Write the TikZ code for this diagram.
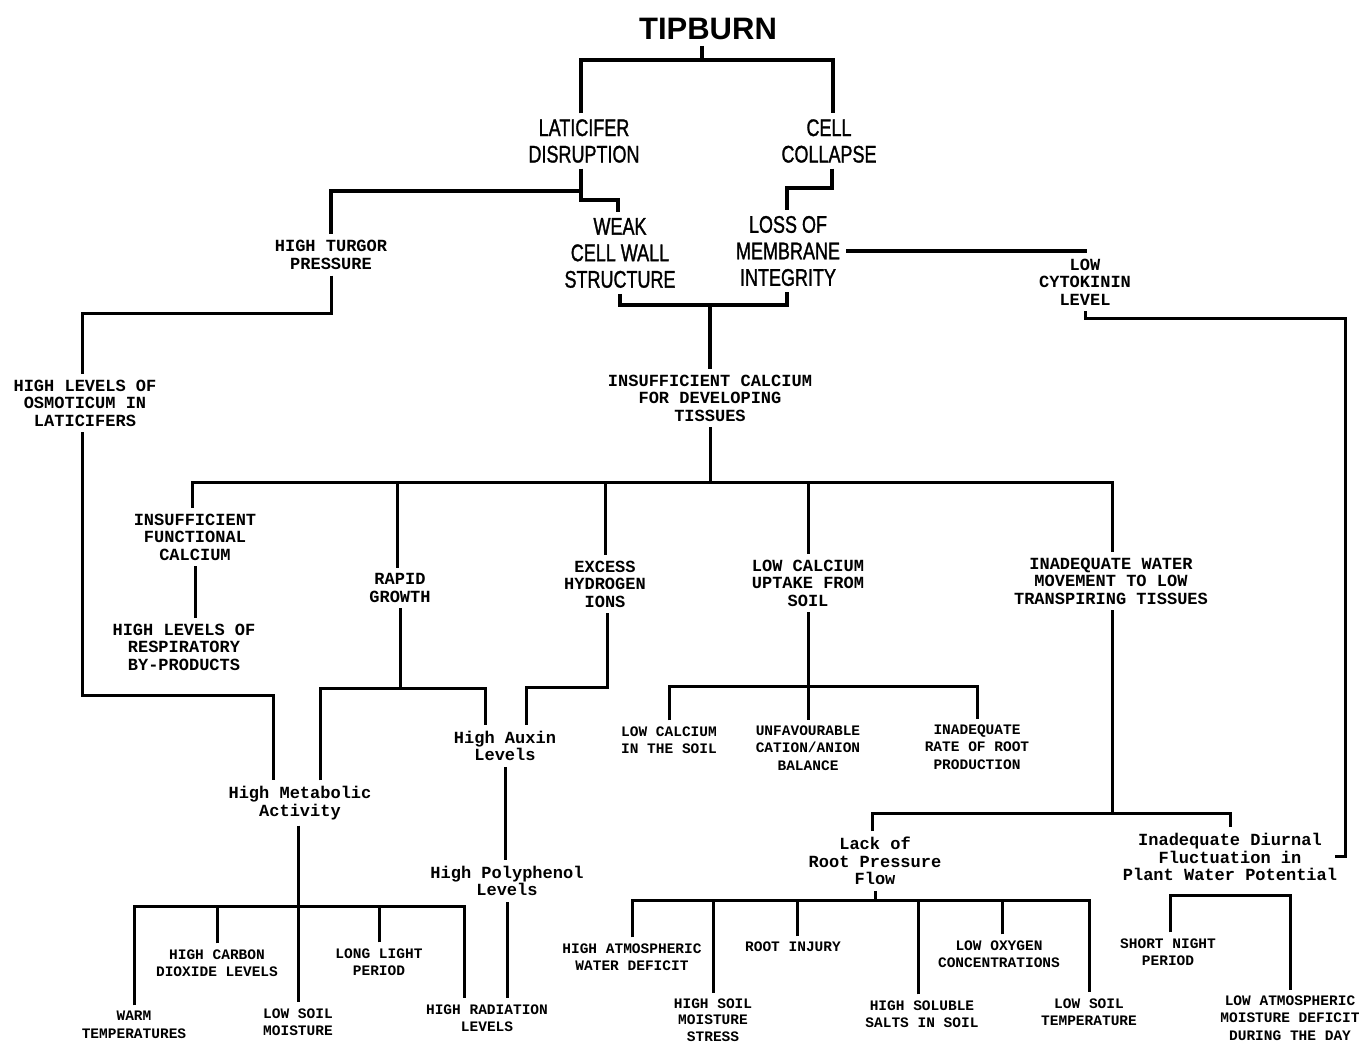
\documentclass[tikz,border=0pt]{standalone}
\usepackage{fontspec}
\newfontfamily\sansf{Liberation Sans}
\newfontfamily\condfont[FakeStretch=0.75,FakeBold=1.2]{Liberation Sans}
\newfontfamily\twfont{Liberation Mono}
\begin{document}
\begin{tikzpicture}[x=1pt,y=-1pt,
  thk/.style={line width=4.5pt},
  ln/.style={line width=3pt},
  base/.style={align=center,inner sep=0pt,outer sep=6pt},
  title/.style={base,font=\sansf\bfseries\fontsize{31}{31}\selectfont},
  cond/.style={base,font=\condfont\fontsize{24}{26.5}\selectfont},
  tw/.style={base,font=\twfont\bfseries\fontsize{17}{17.5}\selectfont},
  sm/.style={base,font=\twfont\bfseries\fontsize{14.5}{17.5}\selectfont}]
\fill[white] (0,0) rectangle (1361,1044);
\useasboundingbox (0,0) rectangle (1361,1044);

% nodes
\node[title] (tip) at (708,29) {TIPBURN};
\node[cond] (lat) at (584,141) {LATICIFER\\DISRUPTION};
\node[cond] (cell) at (829,141) {CELL\\COLLAPSE};
\node[cond] (weak) at (620,253) {WEAK\\CELL WALL\\STRUCTURE};
\node[cond] (loss) at (788,251) {LOSS OF\\MEMBRANE\\INTEGRITY};
\node[tw] (turgor) at (331,255) {HIGH TURGOR\\PRESSURE};
\node[tw] (cyto) at (1085,282) {LOW\\CYTOKININ\\LEVEL};
\node[tw] (osm) at (85,403) {HIGH LEVELS OF\\OSMOTICUM IN\\LATICIFERS};
\node[tw] (ins) at (710,398) {INSUFFICIENT CALCIUM\\FOR DEVELOPING\\TISSUES};
\node[tw] (ifc) at (195,537) {INSUFFICIENT\\FUNCTIONAL\\CALCIUM};
\node[tw] (rapid) at (400,588) {RAPID\\GROWTH};
\node[tw] (excess) at (605,584) {EXCESS\\HYDROGEN\\IONS};
\node[tw] (lcu) at (808,583) {LOW CALCIUM\\UPTAKE FROM\\SOIL};
\node[tw] (iwm) at (1111,581) {INADEQUATE WATER\\MOVEMENT TO LOW\\TRANSPIRING TISSUES};
\node[tw] (resp) at (184,647) {HIGH LEVELS OF\\RESPIRATORY\\BY-PRODUCTS};
\node[sm] (lcs) at (669,740) {LOW CALCIUM\\IN THE SOIL};
\node[sm] (unf) at (808,748) {UNFAVOURABLE\\CATION/ANION\\BALANCE};
\node[sm] (irr) at (977,747) {INADEQUATE\\RATE OF ROOT\\PRODUCTION};
\node[tw] (auxin) at (505,746) {High Auxin\\Levels};
\node[tw] (meta) at (300,803) {High Metabolic\\Activity};
\node[tw] (poly) at (507,881) {High Polyphenol\\Levels};
\node[tw] (lack) at (875,861) {Lack of\\Root Pressure\\Flow};
\node[tw] (diur) at (1230,857) {Inadequate Diurnal\\Fluctuation in\\Plant Water Potential};
\node[sm] (warm) at (134,1025) {WARM\\TEMPERATURES};
\node[sm] (carbon) at (217,963) {HIGH CARBON\\DIOXIDE LEVELS};
\node[sm] (moist) at (298,1022) {LOW SOIL\\MOISTURE};
\node[sm] (light) at (379,962) {LONG LIGHT\\PERIOD};
\node[sm] (rad) at (487,1018) {HIGH RADIATION\\LEVELS};
\node[sm] (hawd) at (632,957) {HIGH ATMOSPHERIC\\WATER DEFICIT};
\node[sm,font=\twfont\bfseries\fontsize{14.5}{16.3}\selectfont] (hsm) at (713,1020) {HIGH SOIL\\MOISTURE\\STRESS};
\node[sm] (ri) at (793,947) {ROOT INJURY};
\node[sm] (hss) at (922,1014) {HIGH SOLUBLE\\SALTS IN SOIL};
\node[sm] (lo) at (999,954) {LOW OXYGEN\\CONCENTRATIONS};
\node[sm] (lst) at (1089,1012) {LOW SOIL\\TEMPERATURE};
\node[sm] (snp) at (1168,952) {SHORT NIGHT\\PERIOD};
\node[sm] (lamd) at (1290,1018) {LOW ATMOSPHERIC\\MOISTURE DEFICIT\\DURING THE DAY};
\coordinate (hook) at (1335,856);

% top tier (thick)
\draw[thk] (tip.south -| 702,0) -- (702,60);
\draw[thk] (lat.north -| 581,0) -- (581,60) -- (833,60) -- (cell.north -| 833,0);
\draw[thk] (lat.south -| 581,0) -- (581,200) -| (weak.north -| 618,0);
\draw[thk] (581,191) -| (turgor.north);
\draw[thk] (cell.south -| 832,0) -- (832,188) -| (loss.north -| 787,0);
\draw[thk] (loss.east) -| (cyto.north);
\draw[thk] (weak.south) -- (weak.south |- 0,305) -| (loss.south -| 787,0);
\draw[thk] (ins.north |- 0,305) -- (ins.north);

% cytokinin to diurnal
\draw[ln] (cyto.south) -- (cyto.south |- 0,318) -| (1345,856) -- (hook);

% turgor / osmoticum
\draw[ln] (turgor.south) -- (turgor.south |- 0,313) -| (osm.north -| 82,0);
\draw[ln] (osm.south -| 82,0) -- (82,695) -| (meta.north -| 273,0);

% insufficient calcium bus
\draw[ln] (ins.south) -- (ins.south |- 0,482);
\draw[ln] (ifc.north -| 192,0) |- (1112,482) -- (iwm.north -| 1112,0);
\draw[ln] (rapid.north -| 397,0) -- (397,482);
\draw[ln] (excess.north) -- (excess.north |- 0,482);
\draw[ln] (lcu.north) -- (lcu.north |- 0,482);
\draw[ln] (ifc.south) -- (resp.north -| ifc.south);

% rapid growth / excess
\draw[ln] (rapid.south) -- (rapid.south |- 0,688);
\draw[ln] (meta.north -| 320,0) -- (320,688) -| (auxin.north -| 485,0);
\draw[ln] (excess.south -| 607,0) -- (607,687) -| (auxin.north -| 526,0);
\draw[ln] (auxin.south) -- (poly.north -| auxin.south);
\draw[ln] (poly.south) -- (rad.north -| poly.south);

% metabolic bus
\draw[ln] (meta.south -| moist.north) -- (moist.north);
\draw[ln] (warm.north) |- (464,906) -- (rad.north -| 464,0);
\draw[ln] (carbon.north) -- (carbon.north |- 0,906);
\draw[ln] (light.north) -- (light.north |- 0,906);

% low calcium uptake
\draw[ln] (lcu.south) -- (unf.north);
\draw[ln] (lcs.north) |- (irr.north |- 0,686) -- (irr.north);

% water movement
\draw[ln] (iwm.south -| 1112,0) -- (1112,813);
\draw[ln] (lack.north -| 872,0) |- (diur.north |- 0,813) -- (diur.north);

% root pressure bus
\draw[ln] (lack.south) -- (lack.south |- 0,900);
\draw[ln] (hawd.north) |- (lst.north |- 0,900) -- (lst.north);
\draw[ln] (hsm.north) -- (hsm.north |- 0,900);
\draw[ln] (ri.north -| 797,0) -- (797,900);
\draw[ln] (hss.north -| 918,0) -- (918,900);
\draw[ln] (lo.north -| 1002,0) -- (1002,900);

% diurnal bus
\draw[ln] (snp.north -| 1170,0) |- (lamd.north |- 0,895) -- (lamd.north);
\end{tikzpicture}
\end{document}
